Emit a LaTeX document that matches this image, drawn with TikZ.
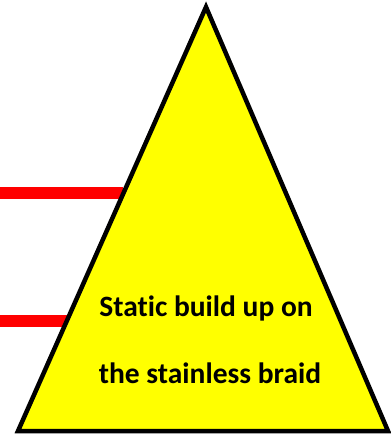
\documentclass[tikz,border=0pt]{standalone}
\usepackage{fontspec}
\setmainfont[Ligatures=NoCommon]{Carlito}
\usetikzlibrary{calc}
\definecolor{fillyellow}{HTML}{FFFF00}
\definecolor{wirered}{HTML}{FF0000}

\begin{document}
\begin{tikzpicture}[
  x=1pt, y=-1pt,
  cone/.style={
    draw=black,
    fill=fillyellow,
    line width=4.5pt,
    line join=miter
  },
  wire/.style={
    draw=wirered,
    line width=12pt
  },
  label/.style={
    font=\fontsize{29.5}{31}\selectfont\bfseries,
    anchor=base,
    inner sep=0pt
  }
]
\useasboundingbox (0,0) rectangle (391,437);
\coordinate (apex) at (206,7);
\coordinate (baseL) at (18,431);
\coordinate (baseR) at (388,431);

% wires touching the left side
\coordinate (wireAstart) at (0,193);
\coordinate (wireBstart) at (0,321);
\coordinate (wireAend) at ($(apex)!0.44!(baseL)$);
\coordinate (wireBend) at ($(apex)!0.74!(baseL)$);
\draw[wire] (wireAstart) -- (wireAstart -| wireAend);
\draw[wire] (wireBstart) -- (wireBstart -| wireBend);

\draw[cone] (apex) -- (baseR) -- (baseL) -- cycle;

\node[label] (lineA) at (206,316) {Static build up on};
\node[label] (lineB) at (210,383) {the stainless braid};
\end{tikzpicture}
\end{document}
